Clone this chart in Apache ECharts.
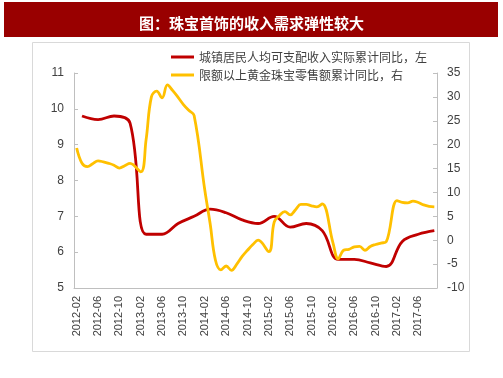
<!DOCTYPE html>
<html>
<head>
<meta charset="utf-8">
<script src="https://cdn.jsdelivr.net/npm/echarts@6/dist/echarts.min.js"></script>
<style>
  html, body { margin: 0; padding: 0; background: #fff; }
  #chart { width: 503px; height: 378px; }
</style>
</head>
<body>
<div id="chart"></div>
<script>
// months on the x axis, 2012-02 .. 2017-09
const months = []
for (let y = 2012; y <= 2017; y++) {
  for (let m = 1; m <= 12; m++) {
    if (y === 2012 && m < 2) continue
    if (y === 2017 && m > 9) continue
    months.push(y + '-' + String(m).padStart(2, '0'))
  }
}

// 城镇居民人均可支配收入实际累计同比 (quarterly, left axis)
const incomeQuarters = [
  '2012-03', '2012-06', '2012-09', '2012-12',
  '2013-03', '2013-06', '2013-09', '2013-12',
  '2014-03', '2014-06', '2014-09', '2014-12',
  '2015-03', '2015-06', '2015-09', '2015-12',
  '2016-03', '2016-06', '2016-09', '2016-12',
  '2017-03', '2017-06', '2017-09'
]
const incomeGrowth = [
  9.8, 9.7, 9.8, 9.6,
  6.5, 6.5, 6.8, 7.0,
  7.2, 7.1, 6.9, 6.8,
  7.0, 6.7, 6.8, 6.6,
  5.8, 5.8, 5.7, 5.6,
  6.3, 6.5, 6.6
]

// 限额以上黄金珠宝零售额累计同比 (monthly, right axis, no January data)
const jewelryGrowth = [
  19.3, 16.1, 15.4, 16.0, 16.6, 16.4, 16.1, 15.7, 15.1, 15.6, 16.1,          // 2012-02..12
  null, 14.3, 21.0, 30.0, 31.2, 29.8, 32.5, 31.3, 29.9, 28.4, 27.2, 26.1,    // 2013
  null, 10.5, 3.5, -4.2, -6.2, -5.4, -6.3, -5.0, -3.4, -2.1, -0.9, 0.0,      // 2014
  null, -2.4, 3.8, 5.2, 6.0, 5.3, 6.4, 7.5, 7.5, 7.2, 7.0, 7.6,             // 2015
  null, -0.5, -3.9, -2.1, -1.9, -1.4, -1.3, -2.1, -1.3, -0.9, -0.6, -0.3,   // 2016
  null, 8.3, 7.9, 7.8, 8.2, 7.9, 7.4, 7.1, 7.0                              // 2017-01..09
]

const seriesNames = ['城镇居民人均可支配收入实际累计同比，左', '限额以上黄金珠宝零售额累计同比，右']
const leftTicks = { min: 5, max: 11, interval: 1 }
const rightTicks = { min: -10, max: 35, interval: 5 }

const incomeData = months.map(m => {
  const k = incomeQuarters.indexOf(m)
  return k >= 0 ? incomeGrowth[k] : null
})

const axisGrey = '#BFBFBF'
const labelColor = '#404040'
const numFont = 'Liberation Sans, Arial, sans-serif'

const chart = echarts.init(document.getElementById('chart'))
chart.setOption({
  animation: false,
  backgroundColor: '#fff',
  title: {
    text: '图：珠宝首饰的收入需求弹性较大',
    left: 'center',
    top: 11,
    textStyle: {
      color: '#fff',
      fontSize: 15,
      fontWeight: 'bold',
      fontFamily: 'Noto Sans CJK SC'
    }
  },
  graphic: [
    {
      type: 'rect', z: -1,
      shape: { x: 4, y: 2, width: 494, height: 35 },
      style: { fill: '#990000' }
    },
    {
      type: 'rect', z: -1,
      shape: { x: 32.5, y: 42.5, width: 437, height: 309 },
      style: { fill: 'none', stroke: '#D9D9D9', lineWidth: 1 }
    }
  ],
  legend: {
    orient: 'vertical',
    left: 166,
    top: 46,
    itemWidth: 23,
    itemHeight: 3,
    itemGap: 6,
    icon: 'rect',
    textStyle: { fontSize: 12, color: labelColor, fontFamily: 'Noto Sans CJK SC' },
    data: seriesNames
  },
  grid: { left: 74, right: 66, top: 73, bottom: 90 },
  xAxis: {
    type: 'category',
    data: months,
    boundaryGap: true,
    axisLine: { onZero: false, lineStyle: { color: axisGrey, width: 1 } },
    axisTick: { interval: 3, inside: true, length: 3, lineStyle: { color: axisGrey } },
    axisLabel: {
      interval: 3,
      rotate: 90,
      margin: 8,
      fontSize: 11,
      color: labelColor,
      fontFamily: numFont
    }
  },
  yAxis: [
    {
      type: 'value',
      min: leftTicks.min, max: leftTicks.max, interval: leftTicks.interval,
      axisLine: { show: true, lineStyle: { color: axisGrey } },
      axisTick: { show: true, inside: true, length: 4, lineStyle: { color: axisGrey } },
      splitLine: { show: false },
      axisLabel: { fontSize: 12, color: labelColor, margin: 10, fontFamily: numFont }
    },
    {
      type: 'value',
      position: 'right',
      min: rightTicks.min, max: rightTicks.max, interval: rightTicks.interval,
      axisLine: { show: true, lineStyle: { color: axisGrey } },
      axisTick: { show: true, inside: true, length: 4, lineStyle: { color: axisGrey } },
      splitLine: { show: false },
      axisLabel: { fontSize: 12, color: labelColor, margin: 10, fontFamily: numFont }
    }
  ],
  series: [
    {
      name: seriesNames[0],
      type: 'line',
      yAxisIndex: 0,
      data: incomeData,
      connectNulls: true,
      smooth: 0.4,
      showSymbol: false,
      itemStyle: { color: '#C00000' },
      lineStyle: { color: '#C00000', width: 2.8 }
    },
    {
      name: seriesNames[1],
      type: 'line',
      yAxisIndex: 1,
      data: jewelryGrowth,
      connectNulls: true,
      smooth: 0.4,
      showSymbol: false,
      itemStyle: { color: '#FFC000' },
      lineStyle: { color: '#FFC000', width: 2.8 }
    }
  ]
})
</script>
</body>
</html>
